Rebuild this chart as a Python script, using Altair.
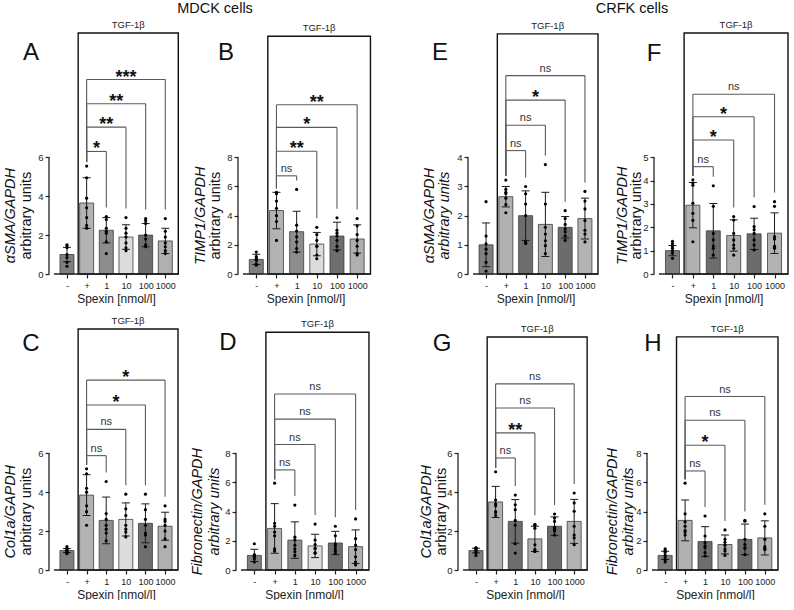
import json
import altair as alt
import pandas as pd

CATS = ["-", "+", "1", "10", "100", "1000"]
X_TITLE = "Spexin [nmol/l]"
GROUP_LABEL = "TGF-1β"
Y_UNITS = "arbitrary units"
CELL_MDCK = "MDCK cells"
CELL_CRFK = "CRFK cells"

# ---------------- data ----------------
# Panel A  (MDCK, aSMA)
A_means = [1.0, 3.65, 2.25, 1.9, 2.0, 1.7]
A_sd = [0.37, 1.3, 0.65, 0.63, 0.6, 0.65]
A_points = [[1.5, 1.45, 1.35, 1.0, 0.85, 0.6, 0.4],
            [5.55, 4.95, 3.9, 3.4, 2.9, 2.5, 2.35],
            [2.95, 2.8, 2.35, 2.2, 2.1, 1.65, 1.05],
            [2.9, 2.35, 2.1, 1.9, 1.6, 1.35, 1.2],
            [2.85, 2.75, 2.6, 2.0, 1.8, 1.5, 1.4],
            [2.85, 2.2, 1.9, 1.6, 1.4, 1.2, 1.05]]
A_sig = ["*", "**", "**", "***"]
A_sig_y = [6.3, 7.55, 8.75, 10.0]
A_box_top = 12.5

# Panel B  (MDCK, TIMP1)
B_means = [1.0, 4.35, 2.9, 2.05, 2.6, 2.4]
B_sd = [0.35, 1.25, 1.4, 0.8, 0.95, 0.97]
B_points = [[1.5, 1.2, 1.05, 1.0, 0.95, 0.7, 0.6],
            [5.6, 5.5, 5.0, 4.5, 4.0, 3.6, 2.3],
            [5.8, 3.35, 2.95, 2.55, 2.2, 1.75, 1.5],
            [3.2, 2.7, 2.3, 1.9, 1.9, 1.3, 1.05],
            [3.85, 3.0, 2.8, 2.6, 2.3, 1.9, 1.6],
            [3.8, 3.3, 2.7, 2.3, 1.9, 1.4, 1.3]]
B_sig = ["ns", "**", "*", "**"]
B_sig_y = [6.73, 8.41, 10.05, 11.6]
B_box_top = 16.3

# Panel C  (MDCK, Col1a)
C_means = [1.0, 3.85, 2.55, 2.6, 2.4, 2.25]
C_sd = [0.1, 1.05, 1.2, 0.85, 1.0, 0.72]
C_points = [[1.2, 1.1, 1.05, 1.0, 0.95, 0.85, 0.85],
            [5.2, 4.95, 4.2, 4.0, 3.3, 3.0, 2.3],
            [4.55, 2.9, 2.6, 2.3, 2.1, 1.9, 1.5],
            [3.9, 3.15, 2.8, 2.3, 2.1, 1.95, 1.7],
            [3.9, 3.1, 2.6, 2.3, 1.8, 1.9, 1.2],
            [3.3, 2.6, 2.5, 2.3, 2.0, 1.6, 1.2]]
C_sig = ["ns", "ns", "*", "*"]
C_sig_y = [5.88, 7.23, 8.48, 9.76]
C_box_top = 12.5

# Panel D  (MDCK, Fibronectin)
D_means = [1.0, 2.85, 2.05, 1.65, 1.85, 1.6]
D_sd = [0.42, 1.7, 1.25, 0.8, 0.8, 1.15]
D_points = [[1.8, 1.05, 1.0, 0.95, 0.9, 0.75, 0.55],
            [5.95, 3.2, 3.0, 2.6, 2.35, 1.45, 1.3],
            [4.45, 2.25, 2.05, 1.7, 1.45, 1.25, 1.0],
            [3.15, 2.05, 1.75, 1.5, 1.45, 1.2, 1.15],
            [3.0, 2.35, 1.8, 1.65, 1.45, 1.3, 1.15],
            [3.5, 2.15, 1.7, 1.4, 0.9, 0.55, 0.35]]
D_sig = ["ns", "ns", "ns", "ns"]
D_sig_y = [6.86, 8.6, 10.34, 12.07]
D_box_top = 16.3

# Panel E  (CRFK, aSMA)
E_means = [1.0, 2.65, 2.0, 1.7, 1.6, 1.9]
E_sd = [0.75, 0.35, 0.85, 1.1, 0.37, 0.7]
E_points = [[2.48, 1.3, 1.03, 0.85, 0.7, 0.4, 0.1],
            [3.22, 2.9, 2.8, 2.75, 2.6, 2.38, 2.1],
            [3.0, 2.75, 2.4, 2.0, 1.1, 1.05, 1.05],
            [3.75, 2.4, 1.6, 1.37, 1.14, 0.97, 0.7],
            [2.17, 1.9, 1.7, 1.55, 1.45, 1.3, 1.15],
            [2.83, 2.5, 2.23, 1.83, 1.5, 1.37, 1.1]]
E_sig = ["ns", "ns", "*", "ns"]
E_sig_y = [4.23, 5.1, 5.96, 6.8]
E_box_top = 8.23

# Panel F  (CRFK, TIMP1)
F_means = [1.0, 2.95, 1.85, 1.65, 1.72, 1.75]
F_sd = [0.22, 0.97, 1.17, 0.67, 0.67, 0.87]
F_points = [[1.4, 1.3, 1.17, 1.1, 1.0, 0.89, 0.67],
            [4.03, 3.9, 3.8, 3.03, 2.6, 2.3, 1.38],
            [3.78, 2.9, 1.74, 1.46, 1.2, 1.1, 0.81],
            [2.46, 2.31, 1.74, 1.46, 1.24, 1.1, 0.81],
            [2.89, 2.03, 1.9, 1.74, 1.46, 1.24, 1.03],
            [3.1, 2.9, 1.6, 1.5, 1.2, 1.15, 1.1]]
F_sig = ["ns", "*", "*", "ns"]
F_sig_y = [4.6, 5.74, 6.74, 7.7]
F_box_top = 10.39

# Panel G  (CRFK, Col1a)
G_means = [1.0, 3.5, 2.5, 1.6, 2.25, 2.5]
G_sd = [0.12, 0.8, 1.12, 0.65, 0.48, 1.13]
G_points = [[1.15, 1.12, 1.1, 1.05, 0.95, 0.9, 0.75],
            [5.05, 3.6, 3.4, 3.3, 3.0, 2.95, 2.8],
            [3.85, 3.35, 3.1, 2.55, 2.3, 1.35, 0.87],
            [2.35, 2.3, 2.15, 1.3, 1.05, 0.97, 0.95],
            [2.88, 2.67, 2.5, 2.2, 2.1, 2.0, 1.8],
            [3.96, 3.45, 3.02, 2.25, 1.8, 1.65, 1.3]]
G_sig = ["ns", "**", "ns", "ns"]
G_sig_y = [5.76, 7.05, 8.33, 9.57]
G_box_top = 11.98

# Panel H  (CRFK, Fibronectin)
H_means = [1.0, 3.4, 1.95, 1.75, 2.1, 2.2]
H_sd = [0.28, 1.4, 1.02, 0.65, 1.05, 1.17]
H_points = [[1.45, 1.35, 1.2, 1.0, 0.85, 0.7, 0.55],
            [5.95, 3.85, 3.3, 3.0, 2.7, 2.6, 2.4],
            [3.7, 2.33, 1.87, 1.65, 1.53, 1.2, 0.96],
            [2.75, 2.1, 1.9, 1.7, 1.45, 1.3, 1.0],
            [3.4, 3.35, 2.1, 1.75, 1.5, 1.5, 1.05],
            [3.85, 3.0, 2.1, 1.6, 1.45, 1.45, 1.4]]
H_sig = ["ns", "*", "ns", "ns"]
H_sig_y = [6.79, 8.55, 10.27, 11.89]
H_box_top = 15.98

# ---------------- styles ----------------
FONT = "Liberation Sans"
MDCK_COLORS = ["#7f7f7f", "#b3b3b3", "#8d8d8d", "#dcdcdc", "#6e6e6e", "#b0b0b0"]
CRFK_COLORS = ["#7f7f7f", "#b1b1b1", "#6d6d6d", "#aeaeae", "#6c6c6c", "#b3b3b3"]
AX = "#222222"
BRACKET = "#5a5a5a"
PLOT_H = 241
AXIS_PX = 116.7
X0 = -0.66
XR = 5.66
BOX_LEFT = 0.57
JIT = [-0.7, 0.45, -0.2, 0.8, -0.5, 0.15, 0.6]
LABEL_EXPR = json.dumps(CATS) + "[datum.value]"


def panel(letter, gene, means, sd, points, sig, sig_y, box_top, colors,
          axis_max, step, vis_w, slot_w, letter_xy, title_x, units_italic, cell=None):
    ppu = AXIS_PX / axis_max
    ymax = PLOT_H / ppu
    xs = alt.Scale(domain=[X0, X0 + (XR - X0) * slot_w / vis_w], nice=False, zero=False)
    ys = alt.Scale(domain=[0, ymax], nice=False, zero=False)
    dummy = pd.DataFrame({"d": [0]})

    bar_df = pd.DataFrame({"i": list(range(6)), "mean": means, "sd": sd, "color": colors})
    bar_df["lo"] = bar_df["mean"] - bar_df["sd"]
    bar_df["hi"] = bar_df["mean"] + bar_df["sd"]

    rows = []
    for i, vals in enumerate(points):
        for k, v in enumerate(vals):
            rows.append({"i": i, "v": v, "j": JIT[k % len(JIT)]})
    pts_df = pd.DataFrame(rows)

    brs = []
    for k, t in enumerate([2, 3, 4, 5]):
        brs.append({"l": 1, "t": t, "mid": (1 + t) / 2, "level": sig_y[k], "label": sig[k],
                    "lb": max(points[1]) + 4 / ppu, "rb": max(points[t]) + 9 / ppu})
    br_df = pd.DataFrame(brs)

    xa = alt.Axis(values=list(range(6)), labelExpr=LABEL_EXPR, title=X_TITLE,
                  titleFontSize=12, titleFontWeight="normal", titlePadding=3,
                  titleColor=AX, titleX=vis_w / 2, labelFontSize=9, labelPadding=3,
                  labelColor=AX, tickSize=4, tickColor=AX, tickWidth=1.2, domain=False,
                  grid=False, labelAngle=0, labelFlush=False, labelOverlap=False)
    ya = alt.Axis(values=list(range(0, axis_max + 1, step)), title=None, domain=False,
                  grid=False, tickSize=4, tickColor=AX, tickWidth=1.2, labelFontSize=9.5,
                  labelPadding=2, labelColor=AX)

    def X(f):
        return alt.X(f, scale=xs, axis=xa)

    def Y(f):
        return alt.Y(f, scale=ys, axis=ya)

    def XD(v):
        return alt.XDatum(v, scale=xs, axis=xa)

    def YD(v):
        return alt.YDatum(v, scale=ys, axis=ya)

    bt = min(box_top, ymax)
    layers = []
    layers.append(alt.Chart(bar_df).mark_bar(width=14, orient="vertical", stroke="#3c3c3c",
                                             strokeWidth=0.8).encode(
        x=X("i:Q"),
        y=alt.Y("mean:Q", scale=ys, axis=ya, stack=None), y2=alt.datum(0),
        color=alt.Color("color:N", scale=None)))
    layers.append(alt.Chart(dummy).mark_rect(fillOpacity=0, stroke="#111111", strokeWidth=1.4).encode(
        x=XD(BOX_LEFT), x2=alt.datum(XR), y=YD(bt), y2=alt.datum(0)))
    layers.append(alt.Chart(bar_df).mark_rule(color="#1a1a1a", strokeWidth=1).encode(
        x=X("i:Q"), y=Y("lo:Q"), y2="hi:Q"))
    layers.append(alt.Chart(bar_df).transform_fold(["lo", "hi"], as_=["k", "cap"]).mark_rule(
        color="#1a1a1a", strokeWidth=1, xOffset=-4, x2Offset=4).encode(
        x=X("i:Q"), x2="i:Q", y=Y("cap:Q")))
    layers.append(alt.Chart(pts_df).mark_circle(size=10, color="#000000", opacity=1).encode(
        x=X("i:Q"), xOffset=alt.XOffset("j:Q", scale=alt.Scale(domain=[-1, 1], range=[-5, 5])),
        y=Y("v:Q")))
    # axis lines
    layers.append(alt.Chart(dummy).mark_rule(color=AX, strokeWidth=1.3).encode(
        x=alt.value(0), y=YD(0), y2=alt.datum(axis_max)))
    layers.append(alt.Chart(dummy).mark_rule(color=AX, strokeWidth=1.3).encode(
        x=XD(X0), x2=alt.datum(XR), y=YD(0)))
    # significance brackets
    layers.append(alt.Chart(br_df).mark_rule(color=BRACKET, strokeWidth=1.1).encode(
        x=X("l:Q"), x2="t:Q", y=Y("level:Q")))
    layers.append(alt.Chart(br_df).mark_rule(color=BRACKET, strokeWidth=1.1).encode(
        x=X("l:Q"), y=Y("level:Q"), y2="lb:Q"))
    layers.append(alt.Chart(br_df).mark_rule(color=BRACKET, strokeWidth=1.1).encode(
        x=X("t:Q"), y=Y("level:Q"), y2="rb:Q"))
    layers.append(alt.Chart(br_df).transform_filter(alt.datum.label != "ns").mark_text(
        fontWeight="bold", fontSize=18, baseline="alphabetic", dy=3, color="#111111").encode(
        x=X("mid:Q"), y=Y("level:Q"), text="label:N"))
    layers.append(alt.Chart(br_df).transform_filter(alt.datum.label == "ns").mark_text(
        fontSize=11, baseline="alphabetic", dy=-4, color="#333333").encode(
        x=X("mid:Q"), y=Y("level:Q"), text="label:N"))
    # labels
    layers.append(alt.Chart(dummy).mark_text(fontSize=9.5, dy=-8, color=AX).encode(
        x=XD((BOX_LEFT + XR) / 2), y=YD(bt), text=alt.value(GROUP_LABEL)))
    layers.append(alt.Chart(dummy).mark_text(fontSize=24, color="#111111").encode(
        x=alt.value(letter_xy[0]), y=alt.value(letter_xy[1]), text=alt.value(letter)))
    layers.append(alt.Chart(dummy).mark_text(fontSize=14.5, angle=270, fontStyle="italic",
                                             color="#111111").encode(
        x=alt.value(title_x[0]), y=YD(axis_max / 2), text=alt.value(gene)))
    layers.append(alt.Chart(dummy).mark_text(fontSize=14.5, angle=270,
                                             fontStyle="italic" if units_italic else "normal",
                                             color="#111111").encode(
        x=alt.value(title_x[1]), y=YD(axis_max / 2), text=alt.value(Y_UNITS)))
    if cell is not None:
        layers.append(alt.Chart(dummy).mark_text(fontSize=14.5, color="#111111").encode(
            x=alt.value(cell[1]), y=alt.value(-24), text=alt.value(cell[0])))
    return alt.layer(*layers).properties(width=slot_w, height=PLOT_H)


pA = panel("A", "αSMA/GAPDH", A_means, A_sd, A_points, A_sig, A_sig_y, A_box_top, MDCK_COLORS,
           6, 2, 134, 138, (-18, 20), (-38, -22), False, (CELL_MDCK, 166))
pB = panel("B", "TIMP1/GAPDH", B_means, B_sd, B_points, B_sig, B_sig_y, B_box_top, MDCK_COLORS,
           8, 2, 135, 179, (-12, 20), (-37, -22), False)
pE = panel("E", "αSMA/GAPDH", E_means, E_sd, E_points, E_sig, E_sig_y, E_box_top, CRFK_COLORS,
           4, 1, 135, 135, (-28, 20), (-38, -23), True, (CELL_CRFK, 164))
pF = panel("F", "TIMP1/GAPDH", F_means, F_sd, F_points, F_sig, F_sig_y, F_box_top, CRFK_COLORS,
           5, 1, 139, 139, (0, 21), (-31, -17), False)
pC = panel("C", "Col1a/GAPDH", C_means, C_sd, C_points, C_sig, C_sig_y, C_box_top, MDCK_COLORS,
           6, 2, 134, 134, (-18, 15), (-38, -22), False)
pD = panel("D", "Fibronectin/GAPDH", D_means, D_sd, D_points, D_sig, D_sig_y, D_box_top,
           MDCK_COLORS, 8, 2, 136, 169, (-8, 14), (-38, -21), True)
pG = panel("G", "Col1a/GAPDH", G_means, G_sd, G_points, G_sig, G_sig_y, G_box_top, CRFK_COLORS,
           6, 2, 134, 136, (-16, 15), (-31, -16), False)
pH = panel("H", "Fibronectin/GAPDH", H_means, H_sd, H_points, H_sig, H_sig_y, H_box_top,
           CRFK_COLORS, 8, 2, 136, 136, (6, 15), (-34, -18), True)

top = alt.hconcat(pA, pB, pE, pF, spacing=51, bounds="flush")
bottom = alt.hconcat(pC, pD, pG, pH, spacing=53, bounds="flush")

chart = alt.vconcat(top, bottom, spacing=12).properties(
    padding={"left": 3, "top": 1, "right": 0, "bottom": 0},
    background="white",
).configure(font=FONT).configure_view(stroke=None)

chart.save("out.html", embed_options={"renderer": "svg", "actions": False})
